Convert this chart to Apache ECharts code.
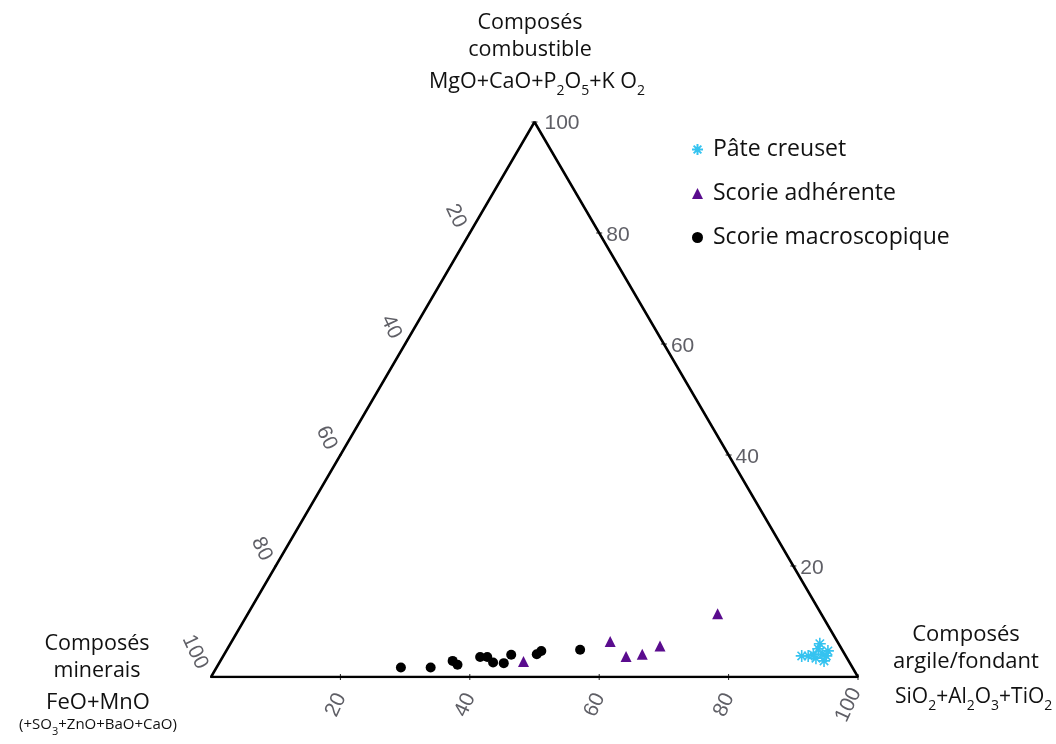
<!DOCTYPE html>
<html>
<head>
<meta charset="utf-8">
<script src="https://cdn.jsdelivr.net/npm/echarts@6/dist/echarts.min.js"></script>
<style>
html, body { margin: 0; padding: 0; background: #fff; }
#chart { width: 1056px; height: 744px; }
</style>
</head>
<body>
<div id="chart"></div>
<script>
// compositions in % : [argile/fondant, minerais, combustible]
const pateCreuset = [
  [89.4, 6.8, 3.8], [90.4, 5.8, 3.8], [91.1, 4.9, 4.0], [91.3, 3.6, 5.1],
  [91.1, 2.9, 6.0], [92.4, 3.5, 4.1], [93.2, 3.0, 3.8], [93.0, 2.3, 4.7],
  [93.3, 3.8, 2.9], [91.8, 4.8, 3.4]
]
const scorieAdherente = [
  [46.9, 50.3, 2.8], [58.5, 35.1, 6.4], [62.3, 34.0, 3.7],
  [64.6, 31.3, 4.1], [66.6, 27.8, 5.6], [72.6, 16.0, 11.4]
]
const scorieMacro = [
  [28.5, 69.8, 1.7], [33.1, 65.2, 1.7], [35.9, 61.2, 2.9], [37.0, 60.8, 2.2],
  [39.8, 56.6, 3.6], [40.9, 55.5, 3.6], [42.3, 55.1, 2.6], [44.0, 53.5, 2.5],
  [44.4, 51.6, 4.0], [48.3, 47.6, 4.1], [48.7, 46.6, 4.7], [54.6, 40.5, 4.9]
]
const tickValues = [20, 40, 60, 80, 100]
const seriesNames = ['Pâte creuset', 'Scorie adhérente', 'Scorie macroscopique']

const font = '"Open Sans", sans-serif'
const tickFont = '"Liberation Sans", Arial, sans-serif'

// ternary -> cartesian (unit triangle)
function toXY(p) {
  const s = p[0] + p[1] + p[2]
  return [(p[0] + p[2] / 2) / s, p[2] / s]
}

const outline = [[0, 100, 0], [100, 0, 0], [0, 0, 100], [0, 100, 0]].map(toXY)

const tickLabel = {
  show: true,
  formatter: p => p.value[2],
  color: '#5f5f66',
  fontSize: 21,
  fontFamily: tickFont,
  align: 'center',
  verticalAlign: 'middle'
}

function tickSeries(points, label, special, symbolSize) {
  return {
    type: 'scatter',
    silent: true,
    symbol: 'rect',
    symbolSize: symbolSize,
    itemStyle: { color: '#222', opacity: 1 },
    label: label,
    data: points.map((p, i) => {
      const item = { value: p }
      if (tickValues[i] === 100) item.label = special
      return item
    }),
    z: 1
  }
}

const asterisk = 'path://M5,0L5,10M0,5L10,5M1.5,1.5L8.5,8.5M1.5,8.5L8.5,1.5'

const chart = echarts.init(document.getElementById('chart'))
chart.setOption({
  animation: false,
  grid: { left: 211, right: 198, top: 122, bottom: 67 },
  xAxis: { type: 'value', min: 0, max: 1, show: false },
  yAxis: { type: 'value', min: 0, max: 1, show: false },
  legend: {
    orient: 'vertical',
    left: 686,
    top: 133,
    itemGap: 21,
    itemWidth: 11,
    itemHeight: 11,
    data: seriesNames,
    textStyle: { fontSize: 23, fontFamily: font, color: '#111', padding: [0, 0, 0, 5] }
  },
  series: [
    {
      type: 'line',
      silent: true,
      symbol: 'none',
      data: outline,
      lineStyle: { color: '#000', width: 2.5 },
      z: 2
    },
    // bottom axis : argile/fondant
    tickSeries(
      tickValues.map(v => toXY([v, 100 - v, 0]).concat(String(v))),
      Object.assign({}, tickLabel, { position: [-4, 31], rotate: 65 }),
      { position: [-9, 31] },
      [1, 6]
    ),
    // left axis : minerais
    tickSeries(
      tickValues.map(v => toXY([0, v, 100 - v]).concat(String(v))),
      Object.assign({}, tickLabel, { position: [-13, -16], rotate: -65 }),
      { position: [-15, -24] },
      [2, 2]
    ),
    // right axis : combustible
    tickSeries(
      tickValues.map(v => toXY([100 - v, 0, v]).concat(String(v))),
      Object.assign({}, tickLabel, { position: [10, 3], align: 'left' }),
      { position: [13, 2] },
      [6, 1]
    ),
    {
      name: seriesNames[0],
      type: 'scatter',
      symbol: asterisk,
      symbolSize: 12,
      itemStyle: { color: '#35c3f0', borderColor: '#35c3f0', borderWidth: 1.6, opacity: 1 },
      data: pateCreuset.map(toXY),
      z: 5
    },
    {
      name: seriesNames[1],
      type: 'scatter',
      symbol: 'triangle',
      symbolSize: 11,
      itemStyle: { color: '#5a0c8e', opacity: 1 },
      data: scorieAdherente.map(toXY),
      z: 5
    },
    {
      name: seriesNames[2],
      type: 'scatter',
      symbol: 'circle',
      symbolSize: 10,
      itemStyle: { color: '#000', opacity: 1 },
      data: scorieMacro.map(toXY),
      z: 5
    }
  ],
  graphic: [
    {
      type: 'text', x: 530, y: 36,
      style: { text: 'Composés\ncombustible', font: '21.5px ' + font, fill: '#111',
        align: 'center', verticalAlign: 'middle', lineHeight: 27 }
    },
    {
      type: 'text', x: 537, y: 82,
      style: {
        text: 'MgO+CaO+P{s|2}O{s|5}+K O{s|2}', font: '21.5px ' + font, fill: '#111',
        align: 'center', verticalAlign: 'middle',
        rich: { s: { fontSize: 14, fontFamily: font, padding: [18, 0, 0, 0] } }
      }
    },
    {
      type: 'text', x: 97, y: 657,
      style: { text: 'Composés\nminerais', font: '21.5px ' + font, fill: '#111',
        align: 'center', verticalAlign: 'middle', lineHeight: 27 }
    },
    {
      type: 'text', x: 98, y: 703,
      style: { text: 'FeO+MnO', font: '22px ' + font, fill: '#111',
        align: 'center', verticalAlign: 'middle' }
    },
    {
      type: 'text', x: 98, y: 725,
      style: {
        text: '(+SO{s|3}+ZnO+BaO+CaO)', font: '15px ' + font, fill: '#111',
        align: 'center', verticalAlign: 'middle',
        rich: { s: { fontSize: 11, fontFamily: font, padding: [13, 0, 0, 0] } }
      }
    },
    {
      type: 'text', x: 966, y: 648,
      style: { text: 'Composés\nargile/fondant', font: '22px ' + font, fill: '#111',
        align: 'center', verticalAlign: 'middle', lineHeight: 27 }
    },
    {
      type: 'text', x: 895, y: 697,
      style: {
        text: 'SiO{s|2}+Al{s|2}O{s|3}+TiO{s|2}', font: '21px ' + font, fill: '#111',
        align: 'left', verticalAlign: 'middle',
        rich: { s: { fontSize: 14, fontFamily: font, padding: [18, 0, 0, 0] } }
      }
    }
  ]
})
</script>
</body>
</html>
